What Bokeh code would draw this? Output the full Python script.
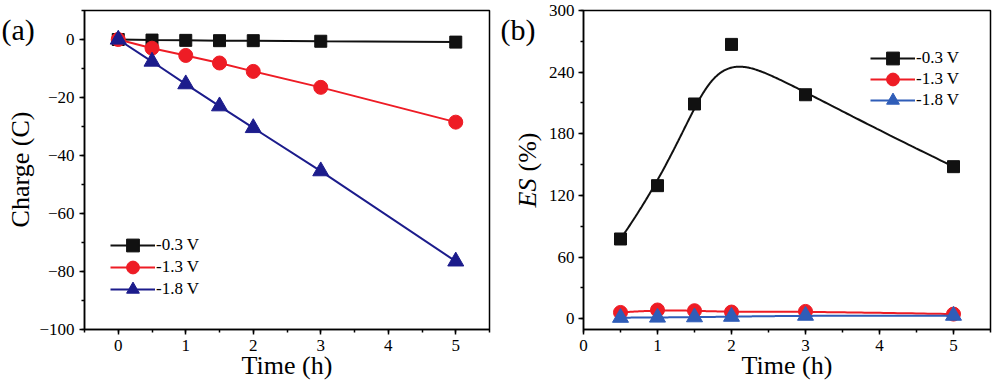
import math
import numpy as np
from bokeh.plotting import figure
from bokeh.layouts import row
from bokeh.models import Range1d, SingleIntervalTicker, Label, Legend
from bokeh.embed import file_html
from bokeh.resources import INLINE

# ---------------- data ----------------
time_a = [0, 0.5, 1, 1.5, 2, 3, 5]
charge_03 = [0, -0.2, -0.3, -0.4, -0.4, -0.6, -0.9]
charge_13 = [0, -3.0, -5.5, -8.1, -11.0, -16.5, -28.5]
charge_18 = [0, -7.6, -15.4, -23.0, -30.5, -45.4, -76.5]

time_b = [0.5, 1, 1.5, 2, 3, 5]
es_03 = [77.6, 129.5, 209, 267, 218, 148]
es_13 = [6.1, 8.5, 7.8, 6.5, 7.1, 4.5]
es_18 = [1.0, 1.2, 1.5, 2.0, 3.0, 3.0]

series_labels = ["-0.3 V", "-1.3 V", "-1.8 V"]

FONT = "Liberation Serif"
BLACK = "#111111"
RED = "#ee1c25"
NAVY = "#1c1c8c"
BLUE_B = "#2f5db8"
H = 382
TOP = 10           # frame top (px from top of figure)
BOTTOM = 329       # frame bottom (px from top of figure)


def bspline(xs, ys, n=300):
    """Clamped cubic B-spline using the data points as control points."""
    P = np.column_stack([np.asarray(xs, float), np.asarray(ys, float)])
    k = 3
    m = len(P)
    knots = np.concatenate([[0.0] * k, np.arange(m - k + 1, dtype=float), [float(m - k)] * k])
    t = np.linspace(0, m - k, n)
    t[-1] -= 1e-9

    def N(i, p, tt):
        if p == 0:
            return ((knots[i] <= tt) & (tt < knots[i + 1])).astype(float)
        out = np.zeros_like(tt)
        d1 = knots[i + p] - knots[i]
        if d1 > 0:
            out += (tt - knots[i]) / d1 * N(i, p - 1, tt)
        d2 = knots[i + p + 1] - knots[i + 1]
        if d2 > 0:
            out += (knots[i + p + 1] - tt) / d2 * N(i + 1, p - 1, tt)
        return out

    B = np.column_stack([N(i, k, t) for i in range(m)])
    C = B @ P
    return C[:, 0], C[:, 1]


def style(p):
    p.xgrid.visible = False
    p.ygrid.visible = False
    p.outline_line_color = "black"
    p.outline_line_width = 1.5
    p.background_fill_color = "white"
    p.border_fill_color = "white"
    for ax in (p.xaxis[0], p.yaxis[0]):
        ax.axis_line_color = "black"
        ax.axis_line_width = 1.5
        ax.major_tick_line_color = "black"
        ax.major_tick_line_width = 1.5
        ax.minor_tick_line_color = "black"
        ax.minor_tick_line_width = 1.5
        ax.major_tick_in = 0
        ax.major_tick_out = 5
        ax.minor_tick_in = 0
        ax.minor_tick_out = 3
        ax.major_label_text_font = FONT
        ax.major_label_text_font_size = "17px"
        ax.major_label_text_color = "black"
        ax.major_label_standoff = 5
        ax.axis_label_text_font = FONT
        ax.axis_label_text_font_size = "26px"
        ax.axis_label_text_font_style = "normal"
        ax.axis_label_text_color = "black"


def add_legends(p, items, x, row_centers):
    """One single-item legend per series so rows can sit closer than the glyph box."""
    for item, yc in zip(items, row_centers):
        leg = Legend(items=[item], location=(x, yc - 16))
        leg.background_fill_alpha = 0
        leg.border_line_alpha = 0
        leg.padding = 0
        leg.margin = 0
        leg.spacing = 0
        leg.glyph_width = 45
        leg.glyph_height = 32
        leg.label_height = 22
        leg.label_standoff = 1
        leg.label_text_font = FONT
        leg.label_text_font_size = "17px"
        leg.label_text_color = "black"
        p.add_layout(leg)


def strip(width):
    s = figure(width=width, height=H, output_backend="svg", toolbar_location=None,
               x_axis_type=None, y_axis_type=None, min_border_left=0, min_border_right=0,
               min_border_top=TOP, min_border_bottom=H - BOTTOM,
               x_range=Range1d(0, 1), y_range=Range1d(0, 1))
    s.outline_line_color = None
    s.grid.visible = False
    s.background_fill_color = "white"
    s.border_fill_color = "white"
    return s


def text_label(p, x, y_from_top, text, size="26px", angle=0.0, align="left", style_="normal"):
    # screen units are measured from the frame's bottom-left corner
    p.add_layout(Label(x=x, y=BOTTOM - y_from_top, x_units="screen", y_units="screen",
                       text=text, angle=angle, text_font=FONT, text_font_size=size,
                       text_font_style=style_, text_baseline="middle",
                       text_align=align, text_color="black"))


# ---------------- left strip: (a) and y title of panel a ----------------
sa = strip(36)
text_label(sa, 1, 29, "(a)", size="30px")
text_label(sa, 20, 169, "Charge (C)", angle=math.pi / 2, align="center")

# ---------------- panel (a) ----------------
pa = figure(width=455, height=H, output_backend="svg", toolbar_location=None,
            x_range=Range1d(-0.5, 5.5), y_range=Range1d(-100, 10),
            min_border_left=43, min_border_right=2, min_border_top=TOP, min_border_bottom=H - BOTTOM)
style(pa)
pa.xaxis.ticker = SingleIntervalTicker(interval=1, num_minor_ticks=2)
pa.yaxis.ticker = SingleIntervalTicker(interval=20, num_minor_ticks=2)
pa.xaxis.axis_label = "Time (h)"
pa.xaxis.axis_label_standoff = -3

items_a = []
for ys, col, mk, sz, lab in [(charge_03, BLACK, "square", 12, series_labels[0]),
                             (charge_13, RED, "circle", 14, series_labels[1]),
                             (charge_18, NAVY, "triangle", 16, series_labels[2])]:
    l = pa.line(time_a, ys, line_color=col, line_width=2)
    s = pa.scatter(time_a, ys, marker=mk, size=sz, fill_color=col, line_color=col)
    items_a.append((lab, [l, s]))
add_legends(pa, items_a, 26, [84, 62, 40])

# ---------------- middle strip: (b) and y title of panel b ----------------
sb = strip(54)
text_label(sb, 9, 29, "(b)", size="30px")
text_label(sb, 36, 207, "ES", angle=math.pi / 2, style_="italic")
text_label(sb, 36, 171, "(%)", angle=math.pi / 2)

# ---------------- panel (b) ----------------
pb = figure(width=449, height=H, output_backend="svg", toolbar_location=None,
            x_range=Range1d(0, 5.5), y_range=Range1d(-10.5, 300),
            min_border_left=36, min_border_right=4, min_border_top=TOP, min_border_bottom=H - BOTTOM)
style(pb)
pb.yaxis.major_label_standoff = 4
pb.xaxis.ticker = SingleIntervalTicker(interval=1, num_minor_ticks=2)
pb.yaxis.ticker = SingleIntervalTicker(interval=60, num_minor_ticks=2)
pb.xaxis.axis_label = "Time (h)"
pb.xaxis.axis_label_standoff = -3

items_b = []
for ys, col, mk, sz, lab in [(es_03, BLACK, "square", 12, series_labels[0]),
                             (es_13, RED, "circle", 14, series_labels[1]),
                             (es_18, BLUE_B, "triangle", 16, series_labels[2])]:
    sx, sy = bspline(time_b, ys)
    l = pb.line(sx, sy, line_color=col, line_width=2)
    s = pb.scatter(time_b, ys, marker=mk, size=sz, fill_color=col, line_color=col)
    items_b.append((lab, [l, s]))
add_legends(pb, items_b, 287, [271, 250, 229])

layout = row(sa, pa, sb, pb, spacing=0)
open("out.html", "w").write(file_html(layout, INLINE))
